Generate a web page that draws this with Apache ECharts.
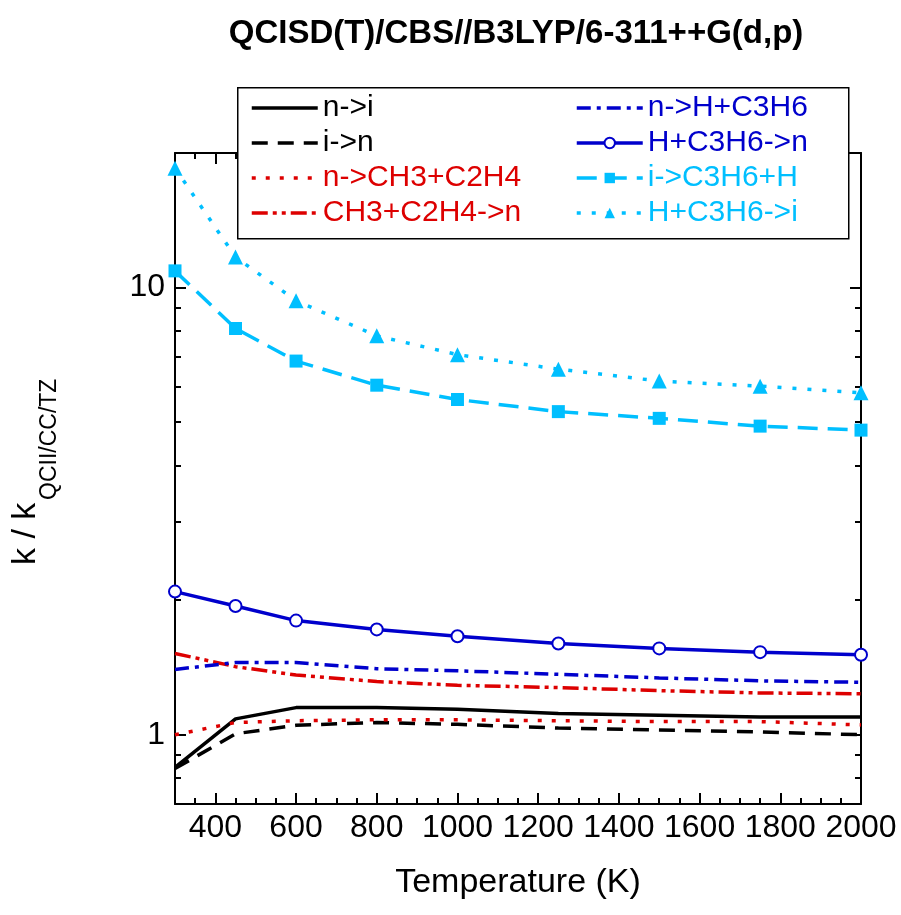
<!DOCTYPE html>
<html>
<head>
<meta charset="utf-8">
<script src="https://cdn.jsdelivr.net/npm/echarts@6/dist/echarts.min.js"></script>
<style>html,body{margin:0;padding:0;background:#fff}#c{width:901px;height:915px}</style>
</head>
<body>
<div id="c"></div>
<script>
// ---- data ----
const temps = [300, 450, 600, 800, 1000, 1250, 1500, 1750, 2000];
const n_to_i      = [0.845, 1.085, 1.15, 1.15, 1.14, 1.115, 1.105, 1.095, 1.095];
const i_to_n      = [0.84, 1.005, 1.05, 1.065, 1.055, 1.035, 1.025, 1.015, 1.0];
const n_to_CH3    = [1.0, 1.065, 1.075, 1.08, 1.08, 1.075, 1.07, 1.07, 1.052];
const CH3_to_n    = [1.52, 1.42, 1.36, 1.315, 1.29, 1.275, 1.255, 1.24, 1.235];
const n_to_HC3H6  = [1.40, 1.45, 1.45, 1.405, 1.39, 1.365, 1.34, 1.32, 1.31];
const HC3H6_to_n  = [2.09, 1.94, 1.80, 1.72, 1.66, 1.60, 1.56, 1.53, 1.51];
const i_to_C3H6H  = [10.9, 8.1, 6.85, 6.05, 5.62, 5.28, 5.1, 4.9, 4.8];
const HC3H6_to_i  = [18.5, 11.7, 9.35, 7.8, 7.08, 6.57, 6.18, 6.02, 5.82];

const xMajorTicks = [400, 600, 800, 1000, 1200, 1400, 1600, 1800, 2000];
const xMinorTicks = [350, 450, 500, 550, 650, 700, 750, 850, 900, 950, 1050, 1100, 1150, 1250, 1300, 1350, 1450, 1500, 1550, 1650, 1700, 1750, 1850, 1900, 1950];
const yMajorTicks = [1, 10];
const yMinorTicks = [0.8, 0.9, 2, 3, 4, 5, 6, 7, 8, 9];

const FONT = "'Liberation Sans', Arial, Helvetica, sans-serif";
const BLACK = '#000000', RED = '#dd0000', BLUE = '#0000cc', CYAN = '#00bfff';

const pair = (arr) => temps.map((t, i) => [t, arr[i]]);

const chart = echarts.init(document.getElementById('c'), null, {renderer: 'canvas'});

const gridBox = {left: 175, right: 40, top: 153, bottom: 111, containLabel: false};

function xAx(grid, pos, ticks, len, labels) {
  return {
    type: 'value', gridIndex: grid, position: pos, min: 300, max: 2000,
    axisLine: {show: grid === 0, onZero: false, lineStyle: {color: BLACK, width: 2}},
    axisTick: {show: true, inside: true, length: len, customValues: ticks, lineStyle: {color: BLACK, width: 2}},
    axisLabel: labels ? {show: true, customValues: xMajorTicks, formatter: (v) => String(v), color: BLACK, fontSize: 32, fontFamily: FONT, margin: 8} : {show: false},
    splitLine: {show: false}
  };
}
function yAx(grid, pos, ticks, len, labels) {
  return {
    type: 'log', logBase: 10, gridIndex: grid, position: pos, min: 0.7, max: 20,
    axisLine: {show: grid === 0, onZero: false, lineStyle: {color: BLACK, width: 2}},
    axisTick: {show: true, inside: true, length: len, customValues: ticks, lineStyle: {color: BLACK, width: 2}},
    axisLabel: labels ? {show: true, customValues: yMajorTicks, formatter: (v) => String(v), color: BLACK, fontSize: 32, fontFamily: FONT, margin: 10} : {show: false},
    splitLine: {show: false}
  };
}

function line(name, data, color, dash, symbol, symSize, extra) {
  const s = {
    name: name, type: 'line', xAxisIndex: 0, yAxisIndex: 0, data: pair(data),
    lineStyle: {color: color, width: 3.5, type: dash},
    itemStyle: {color: color},
    symbol: symbol || 'none', symbolSize: symSize || 0, showSymbol: !!symbol,
    clip: false, animation: false
  };
  return Object.assign(s, extra || {});
}

const series = [
  line('n->i', n_to_i, BLACK, 'solid'),
  line('i->n', i_to_n, BLACK, [16, 10]),
  line('n->CH3+C2H4', n_to_CH3, RED, [4, 10]),
  line('CH3+C2H4->n', CH3_to_n, RED, [16, 5, 4, 5, 4, 5]),
  line('n->H+C3H6', n_to_HC3H6, BLUE, [14, 6, 4, 6]),
  line('H+C3H6->n', HC3H6_to_n, BLUE, 'solid', 'emptyCircle', 12, {itemStyle: {color: BLUE, borderWidth: 1.5}}),
  line('i->C3H6+H', i_to_C3H6H, CYAN, [20, 10], 'rect', 13),
  line('H+C3H6->i', HC3H6_to_i, CYAN, [4, 11], 'triangle', 15)
];

// legend entries: name, text colour, whether a marker is shown
function legendItems(names, colors, marks) {
  return names.map((n, i) => {
    const it = {name: n, textStyle: {color: colors[i]}};
    if (!marks[i]) it.itemStyle = {opacity: 0};
    return it;
  });
}
const legendCommon = {
  orient: 'vertical', itemWidth: 66, itemHeight: 13, itemGap: 3, z: 10,
  textStyle: {fontSize: 30, fontFamily: FONT, lineHeight: 32},
  lineStyle: {width: 3.5},
  selectedMode: false, padding: 0
};

const option = {
  backgroundColor: '#ffffff',
  animation: false,
  textStyle: {fontFamily: FONT},
  title: {
    text: 'QCISD(T)/CBS//B3LYP/6-311++G(d,p)',
    left: 511, top: 12, textAlign: 'center',
    textStyle: {fontSize: 33, fontWeight: 'bold', color: BLACK, fontFamily: FONT}
  },
  grid: [Object.assign({}, gridBox), Object.assign({}, gridBox)],
  xAxis: [
    Object.assign(xAx(0, 'bottom', xMajorTicks, 11, true), {
      name: 'Temperature (K)', nameLocation: 'middle', nameGap: 62,
      nameTextStyle: {fontSize: 34, color: BLACK, fontFamily: FONT}
    }),
    xAx(0, 'top', xMajorTicks, 11, false),
    xAx(1, 'bottom', xMinorTicks, 6, false),
    xAx(1, 'top', xMinorTicks, 6, false)
  ],
  yAxis: [
    yAx(0, 'left', yMajorTicks, 11, true),
    yAx(0, 'right', yMajorTicks, 11, false),
    yAx(1, 'left', yMinorTicks, 6, false),
    yAx(1, 'right', yMinorTicks, 6, false)
  ],
  legend: [
    Object.assign({}, legendCommon, {left: 250, top: 92,
      data: legendItems(['n->i', 'i->n', 'n->CH3+C2H4', 'CH3+C2H4->n'], [BLACK, BLACK, RED, RED], [false, false, false, false])}),
    Object.assign({}, legendCommon, {left: 575, top: 92,
      data: legendItems(['n->H+C3H6', 'H+C3H6->n', 'i->C3H6+H', 'H+C3H6->i'], [BLUE, BLUE, CYAN, CYAN], [false, true, true, true])})
  ],
  graphic: [
    {type: 'rect', left: 237, top: 87, z: 3, shape: {width: 611, height: 151},
     style: {fill: '#fff', stroke: BLACK, lineWidth: 1.5}},
    {type: 'text', x: 26, y: 565, rotation: Math.PI / 2,
     style: {text: 'k / k', font: '34px ' + FONT, fill: BLACK, textAlign: 'left', verticalAlign: 'middle'}},
    {type: 'text', x: 50, y: 500, rotation: Math.PI / 2,
     style: {text: 'QCII/CC/TZ', font: '23px ' + FONT, fill: BLACK, textAlign: 'left', verticalAlign: 'middle'}}
  ],
  series: series
};
chart.setOption(option);
</script>
</body>
</html>
